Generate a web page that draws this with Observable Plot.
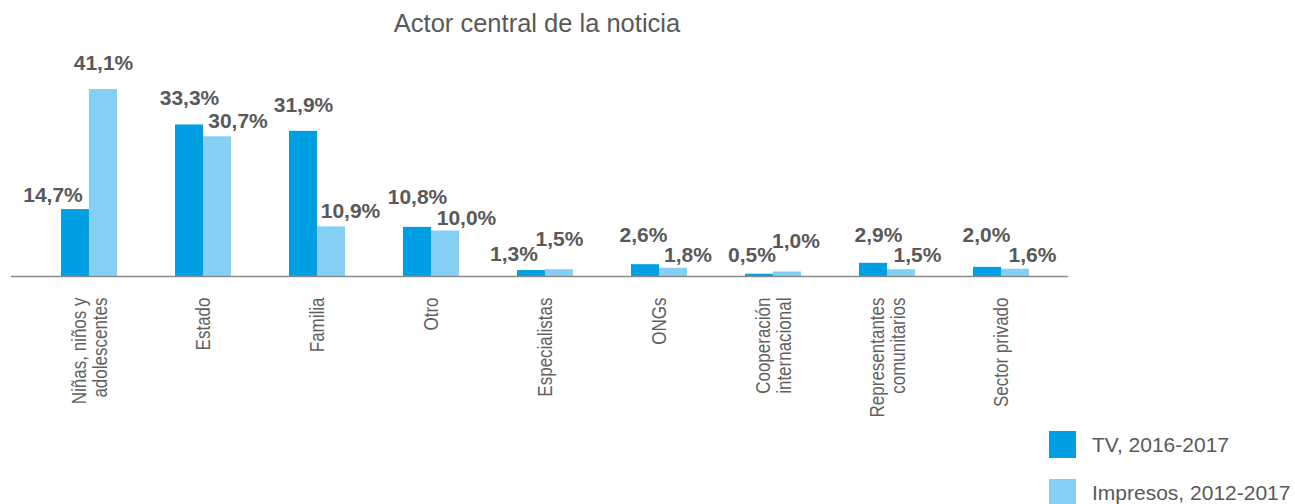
<!DOCTYPE html>
<html>
<head>
<meta charset="utf-8">
<script src="https://cdn.jsdelivr.net/npm/d3@7"></script>
<script src="https://cdn.jsdelivr.net/npm/@observablehq/plot@0.6"></script>
<style>
  html, body { margin: 0; padding: 0; background: #fff; }
  #wrap { position: relative; width: 1295px; height: 504px; overflow: hidden; font-family: "Liberation Sans", Arial, sans-serif; }
  #title { position: absolute; top: 11px; left: 537px; transform: translateX(-50%); font-size: 25.5px; line-height: 1; color: #595959; white-space: nowrap; }
  #chart { position: absolute; top: 50px; left: 0; }
  #chart svg { overflow: visible; }
  .leg { position: absolute; left: 1049px; display: flex; align-items: center; font-size: 21px; color: #595959; white-space: nowrap; }
  .leg .sw { width: 27px; height: 27px; margin-right: 16px; }
</style>
</head>
<body>
<div id="wrap">
  <div id="title"></div>
  <div id="chart"></div>
  <div id="legend"></div>
</div>
<script>
const titleText = "Actor central de la noticia";
const categories = [
  "Niñas, niños y\nadolescentes", "Estado", "Familia", "Otro", "Especialistas",
  "ONGs", "Cooperación\ninternacional", "Representantes\ncomunitarios", "Sector privado"
];
const tvValues = [14.7, 33.3, 31.9, 10.8, 1.3, 2.6, 0.5, 2.9, 2.0];
const impresosValues = [41.1, 30.7, 10.9, 10.0, 1.5, 1.8, 1.0, 1.5, 1.6];
const seriesNames = ["TV, 2016-2017", "Impresos, 2012-2017"];
const seriesColors = ["#009FE3", "#85CFF5"];

// label nudges in pixels (style only), relative to each bar's top centre
const tvLabelNudge = [[-22.5,-15],[0,-28],[0,-26.6],[0,-30.7],[-17.5,-17.4],[-2,-30],[-7.5,-19.5],[5,-28.6],[-1,-32.7]];
const impLabelNudge = [[0,-27.3],[20.5,-17],[19,-16.2],[21,-13.8],[0,-31.2],[14.5,-13.6],[8.5,-31.3],[16,-15],[17,-14.5]];

const fmt = v => v.toFixed(1).replace(".", ",") + "%";

const rows = [];
categories.forEach((c, i) => {
  rows.push({cat: c, series: seriesNames[0], value: tvValues[i], idx: i});
  rows.push({cat: c, series: seriesNames[1], value: impresosValues[i], idx: i});
});

const labelStyle = {fontFamily: "Liberation Sans, Arial, sans-serif", fontSize: 21, fontWeight: "bold", fill: "#595959"};
const labelMarks = rows.map(r => {
  const isTV = r.series === seriesNames[0];
  const n = isTV ? tvLabelNudge[r.idx] : impLabelNudge[r.idx];
  return Plot.text([r], {
    x: "cat", y: "value", text: d => fmt(d.value),
    dx: (isTV ? -14 : 14) + n[0], dy: n[1] + 1,
    ...labelStyle
  });
});

const chart = Plot.plot({
  width: 1295,
  height: 380,
  marginTop: 39,
  marginBottom: 154,
  marginLeft: 11,
  marginRight: 227,
  x: {type: "band", domain: categories, range: [32, 1058], paddingInner: 0.51, paddingOuter: 0.255, axis: null},
  y: {domain: [0, 41.1], axis: null},
  color: {domain: seriesNames, range: seriesColors},
  marks: [
    Plot.barY(rows.filter(r => r.series === seriesNames[0]), {x: "cat", y: "value", fill: "series", insetRight: 27.93, insetLeft: 0}),
    Plot.barY(rows.filter(r => r.series === seriesNames[1]), {x: "cat", y: "value", fill: "series", insetLeft: 27.93, insetRight: 0}),
    ...labelMarks,
    Plot.text(categories, {
      x: d => d, y: () => 0, text: d => d,
      rotate: -90, textAnchor: "end", lineAnchor: "middle", lineHeight: 1.05,
      dy: 21, fill: "#606060", fontSize: 17,
      fontFamily: "Liberation Sans, Arial, sans-serif"
    }),
    Plot.ruleY([0], {stroke: "#8a8a8a", strokeWidth: 1.5})
  ]
});
// make category labels look like the reference's narrow face (taller glyphs)
d3.select(chart).selectAll('g[font-size="17"] text').each(function() {
  const t = this.getAttribute("transform") || "";
  this.setAttribute("transform", t + " scale(1,1.18)");
});
document.getElementById("chart").appendChild(chart);
document.getElementById("title").textContent = titleText;

const legend = document.getElementById("legend");
seriesNames.forEach((name, i) => {
  const row = document.createElement("div");
  row.className = "leg";
  row.style.top = (431 + i * 48) + "px";
  const sw = document.createElement("div");
  sw.className = "sw";
  sw.style.background = seriesColors[i];
  const tx = document.createElement("span");
  tx.textContent = name;
  row.appendChild(sw); row.appendChild(tx);
  legend.appendChild(row);
});
</script>
</body>
</html>
